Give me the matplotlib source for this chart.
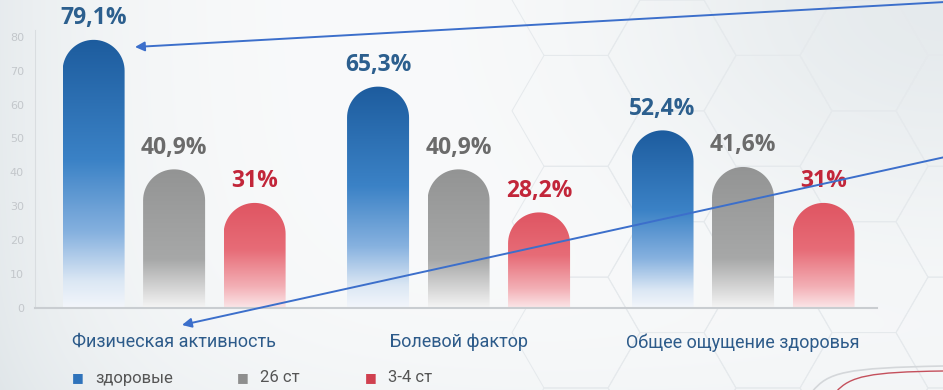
import matplotlib
matplotlib.use('Agg')
import matplotlib.pyplot as plt
import numpy as np
from matplotlib.path import Path
from matplotlib.patches import PathPatch, RegularPolygon
from matplotlib.colors import LinearSegmentedColormap

categories = ['Физическая активность', 'Болевой фактор', 'Общее ощущение здоровья']
series_names = ['здоровые', '26 ст', '3-4 ст']
healthy = [79.1, 65.3, 52.4]
stage26 = [40.9, 40.9, 41.6]
stage34 = [31, 28.2, 31]
y_ticks = [0, 10, 20, 30, 40, 50, 60, 70, 80]

W, H = 943, 390
NARROW = ['Roboto', 'DejaVu Sans']
fig = plt.figure(figsize=(W / 100, H / 100), dpi=100)

# soft background with a faint hexagon grid
bg = fig.add_axes([0, 0, 1, 1], zorder=-2)
bg.set_xlim(0, W)
bg.set_ylim(H, 0)
bg.axis('off')
xx, yy = np.meshgrid(np.arange(W), np.arange(H))
dark = 0.075 * np.exp(-xx / 140.0)
dark += 0.08 * np.exp(-(((xx - W) / 330.0) ** 2 + (yy / 230.0) ** 2))
dark += 0.025 * np.exp(-((H - yy) / 90.0))
img = np.dstack([0.985 - dark * 1.05, 0.988 - dark * 0.85, 0.99 - dark * 0.75])
bg.imshow(np.clip(img, 0, 1), extent=(0, W, H, 0), aspect='auto')
r = 64
for i in range(-1, 12):
    for j in range(-1, 5):
        cx = i * 1.5 * r
        cy = j * np.sqrt(3) * r + (np.sqrt(3) / 2 * r if i % 2 else 0)
        if cx < 520:
            continue
        bg.add_patch(RegularPolygon((cx, cy), 6, radius=r, orientation=np.pi / 6,
                                    fill=False, ec='#e5e9ec', lw=0.7))

# corner ornament
orn = Path([(812, 392), (828, 372), (845, 368), (943, 366)],
           [Path.MOVETO, Path.CURVE4, Path.CURVE4, Path.CURVE4])
bg.add_patch(PathPatch(orn, fill=False, ec='#d4d7da', lw=1.2))
orn2 = Path([(836, 392), (850, 376), (870, 372), (943, 371)],
            [Path.MOVETO, Path.CURVE4, Path.CURVE4, Path.CURVE4])
bg.add_patch(PathPatch(orn2, fill=False, ec='#c4505c', lw=1.0))

ax = fig.add_axes([35 / W, 82 / H, 842 / W, 278 / H])
ax.patch.set_alpha(0)
ax.set_xlim(-0.489, 2.471)
ax.set_ylim(0, 82)

bar_w = 0.218
step = 0.283
x = np.arange(len(categories))

cmaps = [
    LinearSegmentedColormap.from_list('b', [(0, '#f3f6fb'), (0.1, '#dbe7f4'), (0.28, '#86b1df'),
                                            (0.55, '#3b82c6'), (1, '#1d5c9e')]),
    LinearSegmentedColormap.from_list('g', [(0, '#f5f5f5'), (0.12, '#dadada'), (0.35, '#a7a8a8'),
                                            (1, '#939494')]),
    LinearSegmentedColormap.from_list('r', [(0, '#fbe6e8'), (0.2, '#f3b0b6'), (0.55, '#e76c77'),
                                            (1, '#df5562')]),
]
label_colors = ['#2c5f8e', '#6b6b6b', '#c2263a']
legend_colors = ['#2f73bb', '#8e8e8e', '#d0404f']

# vertical radius of the rounded cap, so the cap is a true semicircle on screen
px_per_x = 842 / (ax.get_xlim()[1] - ax.get_xlim()[0])
px_per_y = 278 / (ax.get_ylim()[1] - ax.get_ylim()[0])
cap_y = (bar_w / 2) * px_per_x / px_per_y

grad = np.linspace(0, 1, 256).reshape(-1, 1)
for k, vals in enumerate([healthy, stage26, stage34]):
    for xi, v in zip(x + (k - 1) * step, vals):
        x0, x1 = xi - bar_w / 2, xi + bar_w / 2
        t = np.linspace(0, np.pi, 40)
        arc = np.column_stack([xi + bar_w / 2 * np.cos(t), v - cap_y + cap_y * np.sin(t)])
        verts = np.vstack([[x0, 0], [x1, 0], [x1, v - cap_y], arc, [x0, 0]])
        patch = PathPatch(Path(verts), fc='none', ec='none')
        ax.add_patch(patch)
        im = ax.imshow(grad, cmap=cmaps[k], extent=(x0, x1, 0, v), origin='lower',
                       aspect='auto', interpolation='bilinear', zorder=2)
        im.set_clip_path(patch)
        ax.annotate(f'{v:g}'.replace('.', ',') + '%', (xi, v), xytext=(0, 7),
                    textcoords='offset points', ha='center', va='bottom',
                    fontsize=16.5, fontweight='bold', family=['Open Sans', 'DejaVu Sans'],
                    color=label_colors[k], annotation_clip=False)

ax.set_xlim(-0.489, 2.471)
ax.set_ylim(0, 82)
ax.set_yticks(y_ticks)
ax.tick_params(axis='y', length=0, pad=8, labelsize=8, labelcolor='#c3c7cb')
ax.set_xticks(x)
ax.set_xticklabels(categories, family=NARROW, fontsize=13, color='#2d5b8a')
ax.tick_params(axis='x', length=0, pad=18)
for s in ['top', 'right']:
    ax.spines[s].set_visible(False)
ax.spines['left'].set_color('#d9dde0')
ax.spines['bottom'].set_color('#c9cdd1')
ax.spines['bottom'].set_linewidth(1.5)

# legend row
leg_x = [78, 243, 371]
for lx, name, c in zip(leg_x, series_names, legend_colors):
    fig.text(lx / W, 1 - 378 / H, '■', color=c, fontsize=9, ha='center', va='center')
    fig.text((lx + 17) / W, 1 - 378 / H, name, color='#555555', fontsize=12,
             family=NARROW, ha='left', va='center')

# pointer arrows on top
ov = fig.add_axes([0, 0, 1, 1], zorder=5)
ov.set_xlim(0, W)
ov.set_ylim(H, 0)
ov.axis('off')
ov.patch.set_alpha(0)
for start, end in [((945, 2), (135, 47)), ((945, 157), (182, 325))]:
    ov.annotate('', xy=end, xytext=start,
                arrowprops=dict(arrowstyle='-|>', color='#3c6fcb', lw=1.4,
                                mutation_scale=14, shrinkA=0, shrinkB=0))

fig.savefig('out.png', dpi=100)
